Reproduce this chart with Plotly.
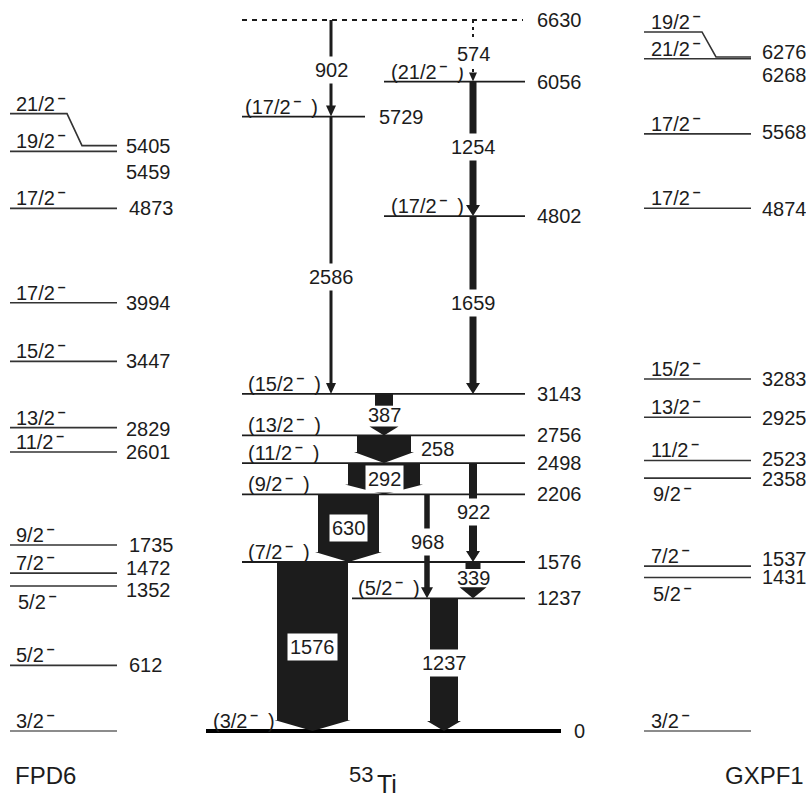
import plotly.graph_objects as go

# ---------------- level data (keV) ----------------
# experimental 53Ti levels
exp_energy = [0, 1237, 1576, 2206, 2498, 2756, 3143, 4802, 5729, 6056, 6630]
exp_spin = ["3/2", "5/2", "7/2", "9/2", "11/2", "13/2", "15/2", "17/2", "17/2", "21/2", ""]

# gamma transitions: energy, initial level, final level
gamma_energy = [902, 2586, 574, 1254, 1659, 387, 258, 292, 630, 968, 922, 339, 1576, 1237]
gamma_from = [6630, 5729, 6630, 6056, 4802, 3143, 2756, 2498, 2206, 2206, 2498, 1576, 1576, 1237]
gamma_to = [5729, 3143, 6056, 4802, 3143, 2756, 2498, 2206, 1576, 1237, 1576, 1237, 0, 0]

# shell-model calculations
fpd6_energy = [0, 612, 1352, 1472, 1735, 2601, 2829, 3447, 3994, 4873, 5405, 5459]
fpd6_spin = ["3/2", "5/2", "5/2", "7/2", "9/2", "11/2", "13/2", "15/2", "17/2", "17/2", "19/2", "21/2"]
fpd6_label = ["", "612", "1352", "1472", "1735", "2601", "2829", "3447", "3994", "4873", "5405", "5459"]

gxpf1_energy = [0, 1431, 1537, 2358, 2523, 2925, 3283, 4874, 5568, 6268, 6276]
gxpf1_spin = ["3/2", "5/2", "7/2", "9/2", "11/2", "13/2", "15/2", "17/2", "17/2", "21/2", "19/2"]
gxpf1_label = ["", "1431", "1537", "2358", "2523", "2925", "3283", "4874", "5568", "6268", "6276"]

# ---------------- drawing style ----------------
W, H = 806, 800
E_TOP, E_BOT = 6816.5, -643.4          # energy range spanned by the canvas
K = H / (E_TOP - E_BOT)                 # pixels per keV


def px(d):
    """Pixel distance expressed in keV."""
    return d / K


FONT = "Liberation Sans, Arial, Helvetica, sans-serif"
INK = "#1c1c1c"
SIZE = 20
NEG = "<sup>\u2009<b>\u2013</b></sup>"   # negative-parity mark


def spin_text(s, tentative=False):
    return "(" + s + NEG + "\u2002)" if tentative else s + NEG


fig = go.Figure()


def add_line(xs, ys, width=1.8, color=INK, dash=None):
    fig.add_trace(go.Scatter(x=xs, y=ys, mode="lines", hoverinfo="skip",
                             line=dict(color=color, width=width, dash=dash)))


def add_poly(xs, ys, color=INK):
    fig.add_trace(go.Scatter(x=xs + [xs[0]], y=ys + [ys[0]], mode="lines", fill="toself",
                             fillcolor=color, hoverinfo="skip", line=dict(width=0, color=color)))


annotations = []


def ann(x, y, text, xanchor="left", yanchor="middle", size=SIZE, yshift=0, bg=None):
    a = dict(x=x, y=y, xref="x", yref="y", text=text, showarrow=False,
             xanchor=xanchor, yanchor=yanchor, yshift=yshift,
             font=dict(family=FONT, size=size, color=INK))
    if bg:
        a.update(bgcolor=bg, borderpad=2)
    annotations.append(a)


# ---------------- 53Ti level scheme ----------------
exp_x0 = [206, 352, 242, 242, 242, 242, 242, 384, 242, 384, 242]
exp_x1 = [561, 525, 525, 525, 525, 525, 525, 525, 365, 525, 523]
exp_lab_x = [572, 535, 535, 535, 535, 535, 535, 535, 377, 535, 535]
exp_spin_x = [211, 356, 246, 246, 246, 246, 246, 389, 243, 389, 0]

for i, e in enumerate(exp_energy):
    if e == 0:
        add_line([exp_x0[i], exp_x1[i]], [e, e], width=4, color="#000")
    elif i == len(exp_energy) - 1:
        add_line([exp_x0[i], exp_x1[i]], [e, e], width=2, dash="5px,5px")
    else:
        add_line([exp_x0[i], exp_x1[i]], [e, e], width=1.8)
    ann(exp_lab_x[i], e, str(e))
    if exp_spin[i]:
        ann(exp_spin_x[i], e, spin_text(exp_spin[i], True), yanchor="bottom", yshift=-3)

# transition arrows: centre x, body width, head width, head height (px), label position
g_x = [331, 331, 473, 473, 473, 384, 384, 384, 348.5, 427, 473, 473, 312.5, 444]
g_w = [3, 3, 0, 7, 7, 18, 54, 72, 61, 5.5, 8, 15, 71, 28]
g_hw = [10, 10, 8, 14, 14, 29, 60, 78, 67, 12, 14, 27, 76, 34]
g_hh = [11, 11, 9, 11, 11, 9, 11, 10, 10, 11, 11, 11, 11, 10]
g_frac = [0.52, 0.58, 0.56, 0.49, 0.49, 0.5, 0.5, 0.5, 0.5, 0.46, 0.49, 0.44, 0.5, 0.49]
g_dx = [0, 0, 0, 0, 0, 0, 53, 0, 0, 0, 0, 0, 0, 0]
# short transitions whose label sits in a gap between stem and head
g_split = [False] * 5 + [True] + [False] * 5 + [True] + [False] * 2

for i, eg in enumerate(gamma_energy):
    ei, ef = gamma_from[i], gamma_to[i]
    xc, w, hw, hh = g_x[i], g_w[i], g_hw[i], px(g_hh[i])
    ly = ei - g_frac[i] * (ei - ef)
    if w == 0:
        # tentative transition: dotted line with small head
        add_line([xc, xc], [ei, ef + hh], width=2, dash="3px,4px")
        add_poly([xc - hw / 2, xc + hw / 2, xc], [ef + hh, ef + hh, ef])
    elif g_split[i]:
        stem_end = ly + px(9)
        add_poly([xc - w / 2, xc + w / 2, xc + w / 2, xc - w / 2], [ei, ei, stem_end, stem_end])
        add_poly([xc - hw / 2, xc + hw / 2, xc], [ef + hh, ef + hh, ef])
    else:
        add_poly([xc - w / 2, xc + w / 2, xc + w / 2, xc + hw / 2, xc, xc - hw / 2, xc - w / 2],
                 [ei, ei, ef + hh, ef + hh, ef, ef + hh, ef + hh])
    if g_dx[i] or g_split[i]:
        ann(xc + g_dx[i], ly, str(eg), xanchor="center")
    else:
        ann(xc, ly, str(eg), xanchor="center", bg="white")

# ---------------- FPD6 calculation ----------------
fpd6_raise = [0] * 11 + [32]               # 21/2 level drawn with a bend
fpd6_below = [False, False, True] + [False] * 9
fpd6_dy = [0, 0, 4, -5, 0, 0, 1, 0, 0, 0, -5, 26]
fpd6_lab_x = [124, 127, 124, 124, 127, 124, 124, 124, 124, 127, 124, 124]
for i, e in enumerate(fpd6_energy):
    col = "#666" if e == 0 else "#333"
    if fpd6_raise[i]:
        up = e + px(fpd6_raise[i])
        add_line([10, 67, 82, 117], [up, up, e, e], width=1.6, color=col)
        ann(14, up, spin_text(fpd6_spin[i]), yanchor="bottom", yshift=-3)
    else:
        add_line([10, 117], [e, e], width=1.6, color=col)
        if fpd6_below[i]:
            ann(16, e, spin_text(fpd6_spin[i]), yanchor="top", yshift=0)
        else:
            ann(14, e, spin_text(fpd6_spin[i]), yanchor="bottom", yshift=-3)
    if fpd6_label[i]:
        ann(fpd6_lab_x[i], e, fpd6_label[i], yshift=-fpd6_dy[i])

# ---------------- GXPF1 calculation ----------------
gx_raise = [0] * 10 + [26]                 # 19/2 level drawn with a bend
gx_below = [False, True, False, True] + [False] * 7
gx_dy = [0, -1, -7, 1, -1, 1, 0, 1, -2, 16, -6]
for i, e in enumerate(gxpf1_energy):
    col = "#666" if e == 0 else "#333"
    if gx_raise[i]:
        up = e + px(gx_raise[i])
        add_line([644, 702, 716, 751], [up, up, e + px(1), e + px(1)], width=1.6, color=col)
        ann(649, up, spin_text(gxpf1_spin[i]), yanchor="bottom", yshift=-3)
    else:
        add_line([644, 751], [e, e], width=1.6, color=col)
        if gx_below[i]:
            ann(651, e, spin_text(gxpf1_spin[i]), yanchor="top", yshift=0)
        else:
            ann(649, e, spin_text(gxpf1_spin[i]), yanchor="bottom", yshift=-3)
    if gxpf1_label[i]:
        ann(760, e, gxpf1_label[i], yshift=-gx_dy[i])

# ---------------- column titles ----------------
ann(45, px(731 - 775), "FPD6", xanchor="center", size=24)
ann(375, px(731 - 774), "53", xanchor="right", size=22)
ann(375, px(731 - 784), "Ti", xanchor="left", size=25)
ann(764, px(731 - 775), "GXPF1", xanchor="center", size=24)

fig.update_layout(
    width=W, height=H, margin=dict(l=0, r=0, t=0, b=0),
    paper_bgcolor="white", plot_bgcolor="white", showlegend=False,
    xaxis=dict(range=[0, W], visible=False, fixedrange=True),
    yaxis=dict(range=[E_BOT, E_TOP], visible=False, fixedrange=True),
    annotations=annotations,
)

fig.write_html("out.html")
